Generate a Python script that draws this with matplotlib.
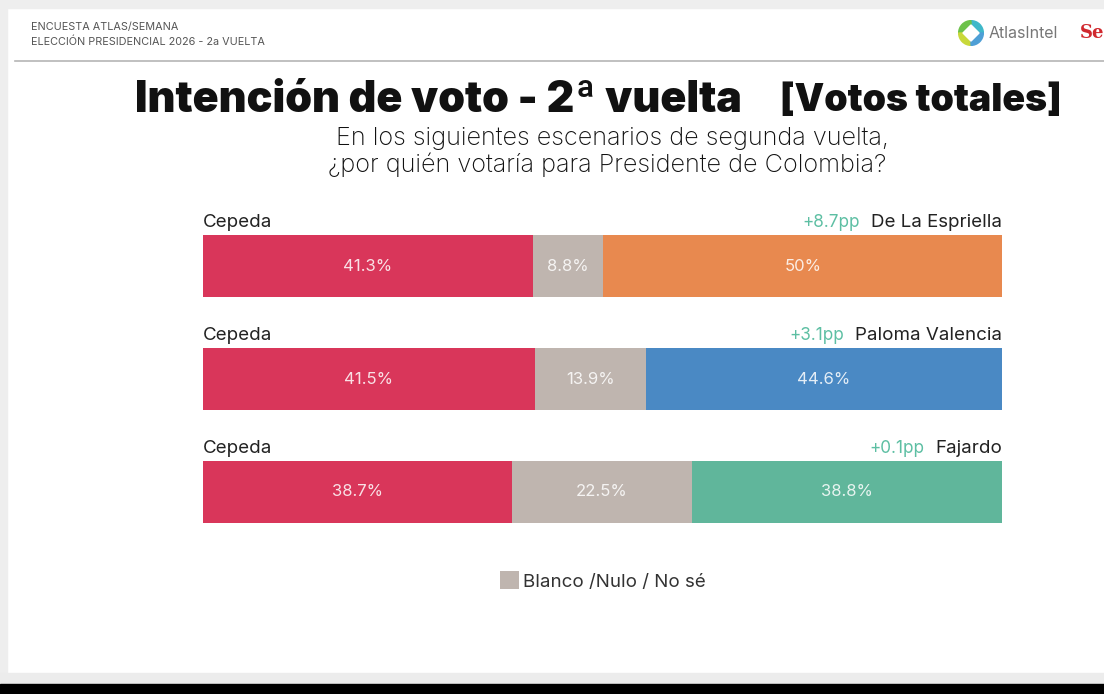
import matplotlib
matplotlib.use("Agg")
import matplotlib.pyplot as plt
from matplotlib.patches import Rectangle, Patch, Wedge, Polygon

# ---------------- data ----------------
left_name = ["Cepeda", "Cepeda", "Cepeda"]
right_name = ["De La Espriella", "Paloma Valencia", "Fajardo"]
left_vals = [41.3, 41.5, 38.7]
blank_vals = [8.8, 13.9, 22.5]
right_vals = [50.0, 44.6, 38.8]
diff_labels = ["+8.7pp", "+3.1pp", "+0.1pp"]
right_colors = ["#E8894F", "#4A89C4", "#60B69B"]
left_color = "#D9365A"
blank_color = "#BFB5AF"
legend_label = "Blanco /Nulo / No sé"

W, H = 1104, 694
fig = plt.figure(figsize=(W / 100, H / 100), dpi=100, facecolor="white")

def fx(px):
    return px / W

def fy(py):
    return 1 - py / H

# screenshot frame
fig.patches.append(Rectangle((0, fy(8)), 1, 8 / H, transform=fig.transFigure, color="#eeeeee", zorder=0))
fig.patches.append(Rectangle((0, 0), fx(7), 1, transform=fig.transFigure, color="#eeeeee", zorder=0))
fig.patches.append(Rectangle((0, fy(684)), 1, 11 / H, transform=fig.transFigure, color="#ececec", zorder=0))
fig.patches.append(Rectangle((0, 0), 1, 10 / H, transform=fig.transFigure, color="black", zorder=1))
fig.lines.append(plt.Line2D([fx(15), 1], [fy(61), fy(61)], transform=fig.transFigure, color="#b5b5b5", lw=1.2))

body = ["Inter", "DejaVu Sans"]

# header
fig.text(fx(31), fy(27), "ENCUESTA ATLAS/SEMANA", fontsize=7.8, color="#555555", va="center", family=body)
fig.text(fx(31), fy(42), "ELECCIÓN PRESIDENCIAL 2026 - 2a VUELTA", fontsize=7.8, color="#555555", va="center", family=body)

# AtlasIntel logo
lax = fig.add_axes([fx(958), fy(46), fx(26), 26 / H])
lax.set_xlim(-1, 1); lax.set_ylim(-1, 1); lax.set_aspect("equal"); lax.axis("off")
for th1, th2, c in [(0, 90, "#3FB8C9"), (90, 180, "#6CC24A"), (180, 270, "#C8D83A"), (270, 360, "#4E9FD6")]:
    lax.add_patch(Wedge((0, 0), 0.95, th1, th2, width=0.45, color=c))
lax.add_patch(Polygon([[0, 0.62], [0.62, 0], [0, -0.62], [-0.62, 0]], color="white"))
fig.text(fx(989), fy(34), "AtlasIntel", fontsize=11.5, color="#777777", va="center", family=body)
fig.text(fx(1080), fy(33), "Se", fontsize=13, color="#D0282E", va="center", fontweight="bold", family="DejaVu Serif")

# title
fig.text(fx(135), fy(101), "Intención de voto - 2ª vuelta", fontsize=31, fontweight="black",
         color="#111111", va="center", family=body)
fig.text(fx(1062), fy(101), "[Votos totales]", fontsize=27, fontweight="black",
         color="#111111", va="center", ha="right", family=body)
fig.text(fx(612), fy(138), "En los siguientes escenarios de segunda vuelta,", fontsize=18.2,
         color="#111111", ha="center", va="center", family=body, fontweight="light")
fig.text(fx(607), fy(165), "¿por quién votaría para Presidente de Colombia?", fontsize=18.2,
         color="#111111", ha="center", va="center", family=body, fontweight="light")

# bars
bar_h = 62 / 113
ax = fig.add_axes([fx(203), fy(523), 799 / W, 288 / H])
ax.set_xlim(0, 100)
ax.set_ylim(2 + bar_h / 2, -bar_h / 2)
ax.axis("off")

ys = list(range(len(left_vals)))
ax.barh(ys, left_vals, height=bar_h, color=left_color, linewidth=0)
ax.barh(ys, blank_vals, left=left_vals, height=bar_h, color=blank_color, linewidth=0)
starts = [a + b for a, b in zip(left_vals, blank_vals)]
ax.barh(ys, right_vals, left=starts, height=bar_h, color=right_colors, linewidth=0)

def fmt(v):
    return f"{v:g}%"

for i in ys:
    tc = (1, 1, 1, 0.85)
    ax.text(left_vals[i] / 2, i, fmt(left_vals[i]), ha="center", va="center", fontsize=12, color=tc, family=body)
    ax.text(left_vals[i] + blank_vals[i] / 2, i, fmt(blank_vals[i]), ha="center", va="center", fontsize=12, color=tc, family=body)
    ax.text(starts[i] + right_vals[i] / 2, i, fmt(right_vals[i]), ha="center", va="center", fontsize=12, color=tc, family=body)
    ly = i - bar_h / 2 - 0.115
    ax.text(0, ly, left_name[i], ha="left", va="center", fontsize=13.5, color="#222222", family=body, clip_on=False)
    t = ax.text(100, ly, right_name[i], ha="right", va="center", fontsize=13.5, color="#222222", family=body, clip_on=False)
    ax.annotate(diff_labels[i], xy=(0, 0.5), xycoords=t, xytext=(-8, 0), textcoords="offset points",
                ha="right", va="center", fontsize=12.3, color="#5DBFA3", family=body)

fig.legend(handles=[Patch(facecolor=blank_color, edgecolor="none")], labels=[legend_label],
           loc="center left", bbox_to_anchor=(fx(500), fy(581)), frameon=False,
           handlelength=1.0, handleheight=1.1, handletextpad=0.25, borderpad=0, borderaxespad=0,
           prop={"family": body, "size": 13.5}, labelcolor="#333333")

fig.savefig("out.png", dpi=100, facecolor="white")
